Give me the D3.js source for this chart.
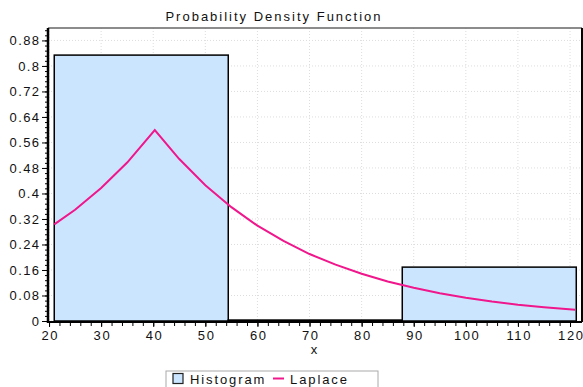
<!DOCTYPE html>
<html>
<head>
<meta charset="utf-8">
<script src="https://cdn.jsdelivr.net/npm/d3@7"></script>
<style>
	body { margin: 0; background: #fff; }
	text { font-family: "Liberation Sans", Arial, sans-serif; fill: #111; }
</style>
</head>
<body>
<svg id="chart" width="583" height="387"></svg>
<script>
// histogram bins (edges) and relative heights
let binEdges = [21, 54.4, 87.8, 121.2];
let binHeights = [0.834, 0.003, 0.169];

// Laplace curve
let curveX = [21, 25, 30, 35, 40.3, 45, 50, 55, 60, 65, 70, 75, 80, 85, 90, 95, 100, 105, 110, 115, 121];
let curveY = [0.303, 0.349, 0.417, 0.497, 0.599, 0.508, 0.426, 0.357, 0.299, 0.251, 0.210, 0.177, 0.148, 0.124, 0.104, 0.087, 0.073, 0.061, 0.051, 0.043, 0.035];

let xTicks = [20, 30, 40, 50, 60, 70, 80, 90, 100, 110, 120];
let yTicks = [0, 0.08, 0.16, 0.24, 0.32, 0.4, 0.48, 0.56, 0.64, 0.72, 0.8, 0.88];

let plotLeft = 48, plotRight = 582, plotTop = 28, plotBottom = 322;

let svg = d3.select("#chart");

let x = d3.scaleLinear().domain([19.8, 122.3]).range([plotLeft, plotRight]);
let y = d3.scaleLinear().domain([0, 0.919]).range([plotBottom - 1, plotTop]);

// grid
let grid = svg.append("g");
grid.selectAll("line.gx")
	.data(xTicks)
	.enter()
	.append("line")
	.attr("x1", d => x(d)).attr("x2", d => x(d))
	.attr("y1", plotTop).attr("y2", plotBottom)
	.attr("stroke", "#ddd")
	.attr("stroke-dasharray", "1,2");
grid.selectAll("line.gy")
	.data(yTicks)
	.enter()
	.append("line")
	.attr("x1", plotLeft).attr("x2", plotRight)
	.attr("y1", d => y(d)).attr("y2", d => y(d))
	.attr("stroke", "#ddd")
	.attr("stroke-dasharray", "1,2");

// histogram bars
svg.selectAll("rect.bar")
	.data(binHeights)
	.enter()
	.append("rect")
	.attr("class", "bar")
	.attr("x", (d, i) => x(binEdges[i]))
	.attr("width", (d, i) => x(binEdges[i + 1]) - x(binEdges[i]))
	.attr("y", d => y(d))
	.attr("height", d => y(0) - y(d))
	.attr("fill", "#cce5ff")
	.attr("stroke", "#000")
	.attr("stroke-width", 1.5);

// Laplace line
let line = d3.line()
	.x(d => x(d[0]))
	.y(d => y(d[1]));
svg.append("path")
	.datum(curveX.map((d, i) => [d, curveY[i]]))
	.attr("d", line)
	.attr("fill", "none")
	.attr("stroke", "#f0168c")
	.attr("stroke-width", 2);

// frame
svg.append("line").attr("x1", plotLeft).attr("x2", plotRight).attr("y1", plotTop).attr("y2", plotTop)
	.attr("stroke", "#666").attr("stroke-width", 1.5);
svg.append("line").attr("x1", plotRight).attr("x2", plotRight).attr("y1", plotTop).attr("y2", plotBottom)
	.attr("stroke", "#000").attr("stroke-width", 2);

// axes
let xAxis = svg.append("g").attr("transform", "translate(0," + plotBottom + ")");
xAxis.call(d3.axisBottom(x).tickValues(d3.range(20, 122, 2)).tickSize(4).tickFormat(""));
xAxis.call(g => g.select(".domain").remove());
xAxis.append("g").call(d3.axisBottom(x).tickValues(xTicks).tickSize(5).tickPadding(4))
	.call(g => g.select(".domain").remove())
	.selectAll("text")
	.style("font-size", "13px")
	.style("letter-spacing", "1.6px")
	.attr("dx", "0.8px")
	.attr("fill", "#111");
xAxis.append("line").attr("x1", plotLeft).attr("x2", plotRight).attr("stroke", "#000").attr("stroke-width", 2);

let yAxis = svg.append("g").attr("transform", "translate(" + plotLeft + ",0)");
yAxis.call(d3.axisLeft(y).tickValues(d3.range(0, 0.915, 0.016)).tickSize(3).tickFormat(""));
yAxis.call(g => g.select(".domain").remove());
yAxis.append("g").call(d3.axisLeft(y).tickValues(yTicks).tickSize(6).tickPadding(1.5).tickFormat(d3.format("~g")))
	.call(g => g.select(".domain").remove())
	.selectAll("text")
	.style("font-size", "13px")
	.style("letter-spacing", "1.4px")
	.attr("fill", "#111");
yAxis.append("line").attr("y1", plotTop).attr("y2", plotBottom + 1).attr("stroke", "#000").attr("stroke-width", 2.5);

// title and axis label
svg.append("text")
	.attr("x", 274).attr("y", 21)
	.attr("text-anchor", "middle")
	.style("font-size", "13px")
	.style("letter-spacing", "2px")
	.text("Probability Density Function");
svg.append("text")
	.attr("x", 314).attr("y", 354)
	.attr("text-anchor", "middle")
	.style("font-size", "13px")
	.text("x");

// legend
let legend = svg.append("g");
legend.append("rect")
	.attr("x", 166).attr("y", 371).attr("width", 212).attr("height", 24)
	.attr("fill", "#fff").attr("stroke", "#aaa");
legend.append("rect")
	.attr("x", 173).attr("y", 373.5).attr("width", 10).attr("height", 10)
	.attr("fill", "#cce5ff").attr("stroke", "#222").attr("stroke-width", 1.2);
legend.append("text")
	.attr("x", 190).attr("y", 384)
	.style("font-size", "13px")
	.style("letter-spacing", "1.9px")
	.text("Histogram");
legend.append("line")
	.attr("x1", 273).attr("x2", 284).attr("y1", 378.5).attr("y2", 378.5)
	.attr("stroke", "#f0168c").attr("stroke-width", 2);
legend.append("text")
	.attr("x", 290).attr("y", 384)
	.style("font-size", "13px")
	.style("letter-spacing", "1.9px")
	.text("Laplace");
</script>
</body>
</html>
